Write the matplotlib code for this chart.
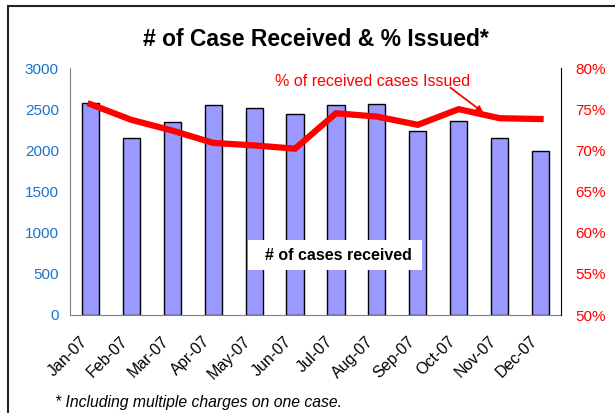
import matplotlib
matplotlib.use("Agg")
import matplotlib.pyplot as plt
from matplotlib.patches import Rectangle
from matplotlib.transforms import ScaledTranslation

plt.rcParams['font.family'] = ['Liberation Sans', 'DejaVu Sans']

# data
months = ['Jan-07', 'Feb-07', 'Mar-07', 'Apr-07', 'May-07', 'Jun-07',
          'Jul-07', 'Aug-07', 'Sep-07', 'Oct-07', 'Nov-07', 'Dec-07']
cases_received = [2572, 2147, 2345, 2555, 2519, 2446, 2555, 2560, 2240, 2361, 2147, 1989]
pct_issued = [75.6, 73.7, 72.4, 70.9, 70.6, 70.2, 74.5, 74.1, 73.1, 75.0, 73.9, 73.8]

W, H = 615, 413
fig = plt.figure(figsize=(W / 100, H / 100), dpi=100)
ax = fig.add_axes([70 / W, 1 - 315 / H, (561 - 70) / W, (315 - 68) / H])

x = range(len(months))
ax.bar(x, cases_received, width=0.42, color='#9999FF', edgecolor='black', linewidth=1.0, zorder=2)
ax.set_xlim(-0.5, 11.5)
ax.set_ylim(0, 3000)
ax.set_yticks(range(0, 3001, 500))
ax.tick_params(axis='y', colors='#1874CD', labelsize=11, length=0, pad=8)
ax.tick_params(axis='x', length=0, labelsize=11.5, pad=4)
ax.set_xticks(list(x))
ax.set_xticklabels(months, rotation=45, ha='right', rotation_mode='anchor')
shift = ScaledTranslation(-0.11, -0.13, fig.dpi_scale_trans)
for lab in ax.get_xticklabels():
    lab.set_color('black')
    lab.set_transform(lab.get_transform() + shift)
for s in ['top', 'right']:
    ax.spines[s].set_visible(False)
ax.spines['left'].set_color('#808080')
ax.spines['bottom'].set_color('#808080')

ax2 = ax.twinx()
ax2.plot(x, pct_issued, color='#FF0000', linewidth=4.5, solid_joinstyle='miter', zorder=3)
ax2.set_ylim(50, 80)
ax2.set_yticks(range(50, 81, 5))
ax2.set_yticklabels([f'{v}%' for v in range(50, 81, 5)])
ax2.tick_params(axis='y', colors='#FF0000', labelsize=11, length=0, pad=10)
for s in ['top', 'left', 'bottom']:
    ax2.spines[s].set_visible(False)
ax2.spines['right'].set_color('black')

# labels
fig.text(316 / W, 1 - 40 / H, '# of Case Received & % Issued*', ha='center', va='center',
         fontsize=16.5, fontweight='bold')
ax2.text(6.9, 78.3, '% of received cases Issued', color='#FF0000', fontsize=11.5,
         ha='center', va='center')
ax2.annotate('', xy=(9.6, 74.6), xytext=(8.8, 77.6),
             arrowprops=dict(arrowstyle='-|>', color='#FF0000', lw=1.3,
                             mutation_scale=9, shrinkA=0, shrinkB=0))
fig.patches.append(Rectangle((248 / W, 1 - 270 / H), (422 - 248) / W, 30 / H,
                             transform=fig.transFigure, facecolor='white',
                             edgecolor='none', zorder=9))
fig.text(338 / W, 1 - 255 / H, '# of cases received', ha='center', va='center',
         fontsize=11.5, fontweight='bold', zorder=10)
fig.text(55 / W, 1 - 403 / H, '* Including multiple charges on one case.', ha='left',
         va='center', fontsize=11.3, style='italic')

# frame
fig.patches.append(Rectangle((8 / W, -0.1), 1.2, 1 - 6 / H + 0.1, transform=fig.transFigure,
                             fill=False, edgecolor='#222222', linewidth=1.5))

fig.savefig('out.png', dpi=100)
